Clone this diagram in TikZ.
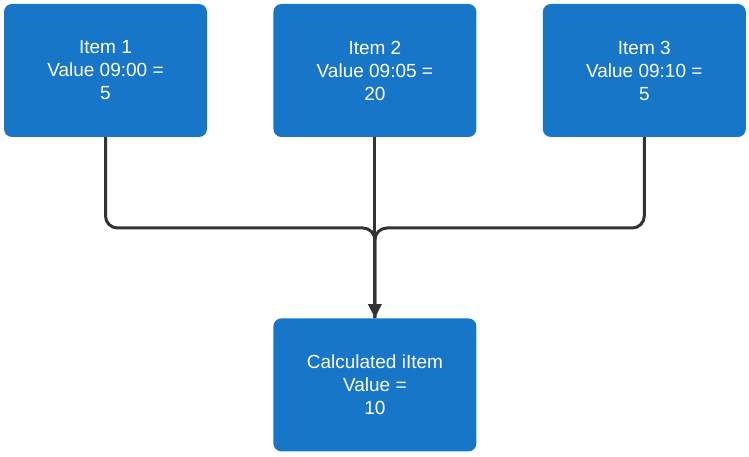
\documentclass[tikz,border=0pt]{standalone}
\usepackage{fontspec}
\setmainfont{Liberation Sans}
\usetikzlibrary{positioning,arrows.meta}

\definecolor{boxblue}{HTML}{1776C8}
\definecolor{wiregray}{HTML}{333333}

\begin{document}
\begin{tikzpicture}[
		x=1pt, y=1pt,
		node distance=66pt,
		item/.style = {fill=boxblue, rounded corners=8pt, minimum width=203pt, minimum height=133pt,
			inner sep=0pt, align=center, text=white, font=\fontsize{19}{23}\selectfont},
		wire/.style = {draw=wiregray, line width=3pt, rounded corners=12pt}
	]
	\useasboundingbox (0,0) rectangle (749,457);
	% Top row.
	\node[item] (i1) at (105.5,386.5) {Item 1\\Value 09:00 =\\5};
	\node[item, right=of i1] (i2) {Item 2\\Value 09:05 =\\20};
	\node[item, right=of i2] (i3) {Item 3\\Value 09:10 =\\5};
	% Result.
	\node[item, below=181pt of i2] (calc) {Calculated iItem\\Value =\\10};

	\coordinate (m) at (i2.south |- 0,229);

	\draw[wire] (i1.south) |- (m) -- (calc.north);
	\draw[wire] (i3.south) |- (m) -- (calc.north);
	\draw[wire, -{Triangle[length=14pt, width=13pt]}] (i2.south) -- (calc.north);
\end{tikzpicture}
\end{document}
